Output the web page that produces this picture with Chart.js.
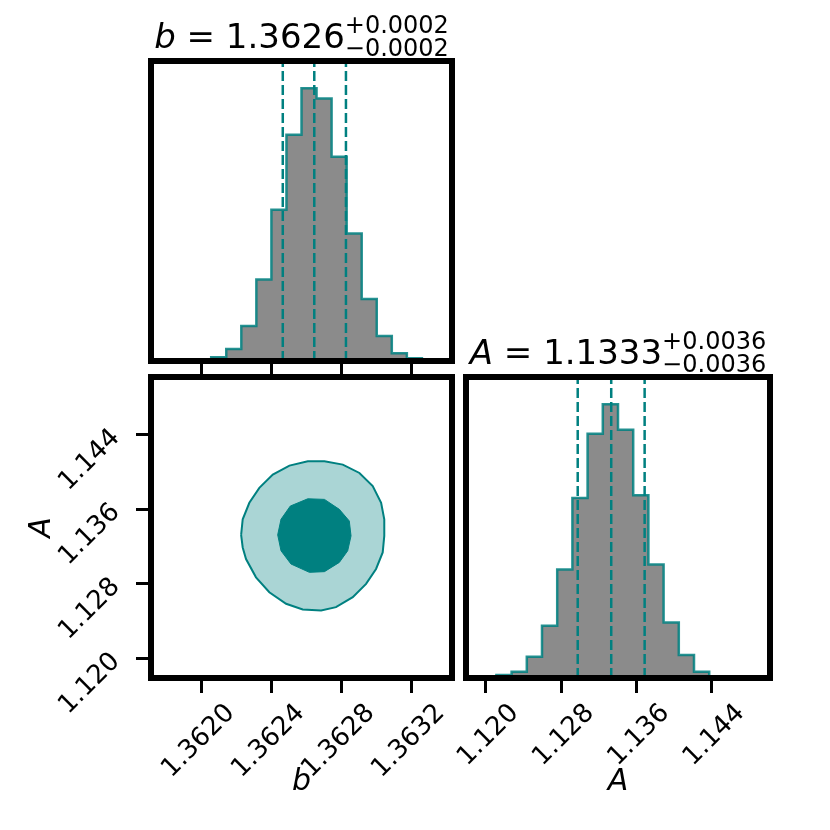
<!DOCTYPE html>
<html>
<head>
<meta charset="utf-8">
<script src="https://cdn.jsdelivr.net/npm/chart.js@4.4.1/dist/chart.umd.min.js"></script>
<style>
html, body { margin: 0; padding: 0; background: #fff; }
#wrap { position: relative; width: 830px; height: 830px; }
#wrap canvas { position: absolute; left: 0; top: 0; }
</style>
</head>
<body>
<div id="wrap">
  <canvas id="histB" width="830" height="830"></canvas>
  <canvas id="contour" width="830" height="830"></canvas>
  <canvas id="histA" width="830" height="830"></canvas>
</div>
<script>
// axis ranges of the two parameters
var bRange = [1.36171, 1.36343];
var aRange = [1.1179, 1.1502];

// histogram counts, 20 bins over each range
var bCounts = [0, 0, 0, 0, 11, 36, 105, 245, 455, 681, 821, 790, 615, 384, 187, 75, 23, 8, 0, 0];
var aCounts = [0, 0, 9, 19, 64, 157, 326, 541, 734, 822, 746, 549, 341, 167, 69, 19, 0, 0, 0, 0];

// 16 / 50 / 84 percent quantiles
var bQuant = [1.362463, 1.362643, 1.362824];
var aQuant = [1.12977, 1.13333, 1.13688];

// tick labels
var bTicks = [1.3620, 1.3624, 1.3628, 1.3632];
var aTicks = [1.120, 1.128, 1.136, 1.144];

// titles: name, value, plus, minus
var bTitle = ['b', '1.3626', '+0.0002', '\u22120.0002'];
var aTitle = ['A', '1.1333', '+0.0036', '\u22120.0036'];

// 2d contour levels (b, A)
var outerB = [1.362225, 1.362234, 1.362272, 1.362329, 1.362406, 1.362501, 1.362606, 1.362701, 1.362806, 1.362901,
              1.362977, 1.363025, 1.363043, 1.363043, 1.363034, 1.362996, 1.362939, 1.362863, 1.362767, 1.362682,
              1.362577, 1.362482, 1.362386, 1.362310, 1.362253, 1.362234];
var outerA = [1.133259, 1.134933, 1.136704, 1.138304, 1.139733, 1.140693, 1.141152, 1.141152, 1.140800, 1.139904,
              1.138486, 1.136704, 1.134933, 1.133152, 1.131371, 1.129600, 1.128000, 1.126571, 1.125504, 1.125152,
              1.125259, 1.125867, 1.127104, 1.128704, 1.130667, 1.131904];
var innerB = [1.362434, 1.362453, 1.362506, 1.362606, 1.362701, 1.362786, 1.362843, 1.362853, 1.362834, 1.362786,
              1.362701, 1.362615, 1.362510, 1.362453];
var innerA = [1.133259, 1.134933, 1.136352, 1.137131, 1.137067, 1.136000, 1.134752, 1.133152, 1.131552, 1.130304,
              1.129312, 1.129238, 1.130133, 1.131552];

var TEAL = '#008080';
var FONT = "'DejaVu Sans'";
var TICK_SIZE = 26;

Chart.defaults.font.family = FONT;
Chart.defaults.color = '#000';
Chart.defaults.animation = false;

function histPoints(range, counts) {
    var w = (range[1] - range[0]) / counts.length;
    var pts = counts.map(function(c, i) { return {x: range[0] + i * w, y: c}; });
    pts.push({x: range[1], y: counts[counts.length - 1]});
    return pts;
}

function polyPoints(xs, ys) {
    var pts = xs.map(function(x, i) { return {x: x, y: ys[i]}; });
    pts.push(pts[0]);
    return pts;
}

function histDatasets(range, counts, quant) {
    var top = 1.1 * Math.max.apply(null, counts);
    var sets = quant.map(function(q) {
        return {
            data: [{x: q, y: 0}, {x: q, y: top}],
            borderColor: TEAL, borderWidth: 2.5, borderDash: [10, 4],
            pointRadius: 0, fill: false
        };
    });
    sets.push({
        data: histPoints(range, counts),
        stepped: true, fill: 'origin',
        backgroundColor: '#8b8b8b',
        borderColor: 'rgba(0,128,128,0.85)', borderWidth: 2.5,
        pointRadius: 0
    });
    return sets;
}

function fixedTicks(values) {
    return function(scale) {
        scale.ticks = values.map(function(v) { return {value: v}; });
    };
}

var tickGrid = {drawOnChartArea: false, drawTicks: true, tickLength: 15, tickWidth: 3, tickColor: '#000'};

var framePlugin = {
    id: 'frame',
    afterDraw: function(chart) {
        var a = chart.chartArea, ctx = chart.ctx;
        ctx.save();
        ctx.lineWidth = 6;
        ctx.strokeStyle = '#000';
        ctx.strokeRect(a.left, a.top, a.right - a.left, a.bottom - a.top);
        ctx.restore();
    }
};

var titlePlugin = {
    id: 'cornerTitle',
    afterDraw: function(chart, args, opts) {
        if (!opts || !opts.text) return;
        var t = opts.text, ctx = chart.ctx, a = chart.chartArea;
        var big = 34, small = 24;
        ctx.save();
        ctx.fillStyle = '#000';
        ctx.textAlign = 'left';
        ctx.textBaseline = 'alphabetic';
        ctx.font = 'italic ' + big + 'px ' + FONT;
        var w1 = ctx.measureText(t[0]).width;
        ctx.font = big + 'px ' + FONT;
        var mid = ' = ' + t[1];
        var w2 = ctx.measureText(mid).width;
        ctx.font = small + 'px ' + FONT;
        var w3 = Math.max(ctx.measureText(t[2]).width, ctx.measureText(t[3]).width);
        var x = (a.left + a.right) / 2 - (w1 + w2 + w3) / 2;
        var base = a.top - 13;
        ctx.font = 'italic ' + big + 'px ' + FONT;
        ctx.fillText(t[0], x, base);
        ctx.font = big + 'px ' + FONT;
        ctx.fillText(mid, x + w1, base);
        ctx.font = small + 'px ' + FONT;
        ctx.fillText(t[2], x + w1 + w2, base - 15);
        ctx.fillText(t[3], x + w1 + w2, base + 8);
        ctx.restore();
    }
};

function xAxis(range, ticks, digits, label) {
    return {
        type: 'linear', position: 'bottom',
        min: range[0], max: range[1],
        afterBuildTicks: fixedTicks(ticks),
        afterFit: function(s) { s.height = label ? 122 : 20; },
        grid: tickGrid,
        border: {display: false},
        ticks: {
            display: !!label,
            minRotation: 45, maxRotation: 45,
            padding: 5, labelOffset: 29,
            font: {size: TICK_SIZE},
            callback: function(v) { return v.toFixed(digits); }
        },
        title: {
            display: !!label, text: label || '',
            font: {size: 30, style: 'italic'}, padding: 0
        }
    };
}

var common = {
    responsive: false,
    elements: {point: {radius: 0}, line: {tension: 0}},
    plugins: {legend: {display: false}, tooltip: {enabled: false}}
};

function opts(padding, scales, title) {
    var o = Object.assign({}, common);
    o.layout = {autoPadding: false, padding: padding};
    o.scales = scales;
    o.plugins = Object.assign({}, common.plugins, {cornerTitle: {text: title}});
    return o;
}

// top left: histogram of b
new Chart(document.getElementById('histB'), {
    type: 'line',
    data: {datasets: histDatasets(bRange, bCounts, bQuant)},
    options: opts({left: 151, right: 378, top: 61, bottom: 449}, {
        x: xAxis(bRange, bTicks, 4, null),
        y: {display: false, min: 0, max: 1.1 * Math.max.apply(null, bCounts)}
    }, bTitle),
    plugins: [framePlugin, titlePlugin]
});

// bottom left: b vs A contours
new Chart(document.getElementById('contour'), {
    type: 'line',
    data: {datasets: [
        {data: polyPoints(innerB, innerA), borderColor: TEAL, backgroundColor: TEAL,
         borderWidth: 1, fill: 'shape', pointRadius: 0},
        {data: polyPoints(outerB, outerA), borderColor: TEAL, backgroundColor: '#aad5d5',
         borderWidth: 2, fill: 'shape', pointRadius: 0}
    ]},
    options: opts({left: 24, right: 378, top: 377, bottom: 30}, {
        x: xAxis(bRange, bTicks, 4, 'b'),
        y: {
            type: 'linear', position: 'left',
            min: aRange[0], max: aRange[1],
            afterBuildTicks: fixedTicks(aTicks),
            afterFit: function(s) { s.width = 127; },
            grid: tickGrid,
            border: {display: false},
            ticks: {
                minRotation: 45, maxRotation: 45,
                padding: 20, labelOffset: -1,
                font: {size: TICK_SIZE},
                callback: function(v) { return v.toFixed(3); }
            },
            title: {display: true, text: 'A', font: {size: 30, style: 'italic'}, padding: 0}
        }
    }, null),
    plugins: [framePlugin]
});

// bottom right: histogram of A
new Chart(document.getElementById('histA'), {
    type: 'line',
    data: {datasets: histDatasets(aRange, aCounts, aQuant)},
    options: opts({left: 466, right: 60, top: 377, bottom: 30}, {
        x: xAxis(aRange, aTicks, 3, 'A'),
        y: {display: false, min: 0, max: 1.1 * Math.max.apply(null, aCounts)}
    }, aTitle),
    plugins: [framePlugin, titlePlugin]
});
</script>
</body>
</html>
